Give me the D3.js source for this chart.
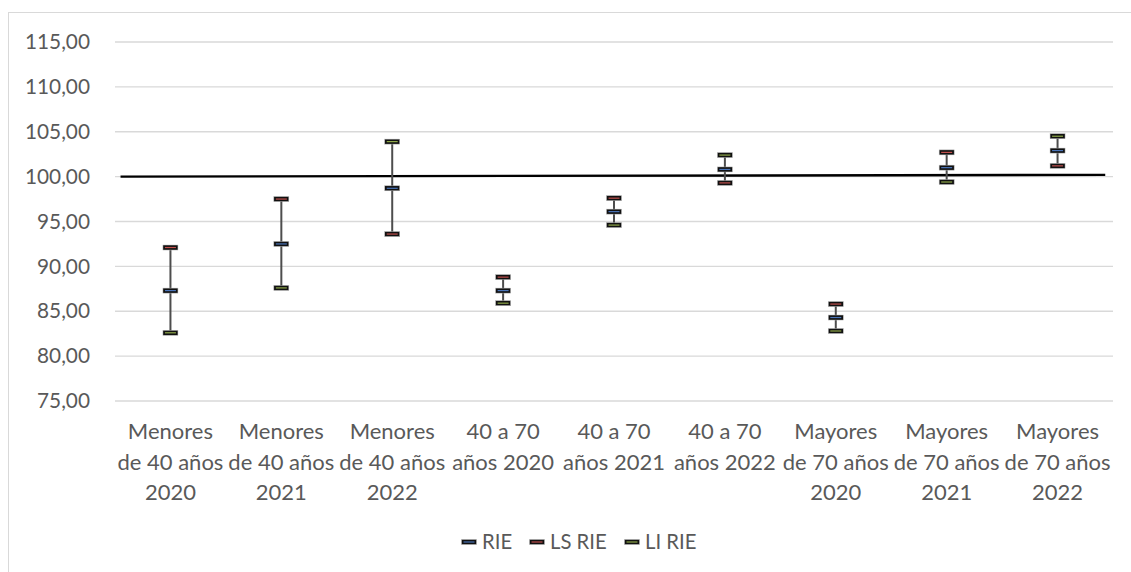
<!DOCTYPE html>
<html>
<head>
<meta charset="utf-8">
<script src="https://cdn.jsdelivr.net/npm/d3@7"></script>
<style>
  html, body { margin: 0; padding: 0; background: #fff; }
  svg { display: block; }
  text { font-family: Lato, "Open Sans", sans-serif; fill: #595959; }
</style>
</head>
<body>
<svg id="chart" width="1131" height="572"></svg>
<script>
const categories = [
  ["Menores", "de 40 años", "2020"],
  ["Menores", "de 40 años", "2021"],
  ["Menores", "de 40 años", "2022"],
  ["40 a 70", "años 2020"],
  ["40 a 70", "años 2021"],
  ["40 a 70", "años 2022"],
  ["Mayores", "de 70 años", "2020"],
  ["Mayores", "de 70 años", "2021"],
  ["Mayores", "de 70 años", "2022"]
];
const rie   = [87.3, 92.5, 98.7, 87.3, 96.1, 100.8, 84.3, 101.0, 102.9];
const lsRie = [92.1, 97.5, 93.6, 88.8, 97.6, 99.3, 85.8, 102.7, 101.2];
const liRie = [82.6, 87.6, 103.9, 85.9, 94.6, 102.4, 82.8, 99.4, 104.5];
const yTicks = [75, 80, 85, 90, 95, 100, 105, 110, 115];
const refLineX = [0.05, 8.93];
const refLineY = [100.0, 100.2];
const seriesNames = ["RIE", "LS RIE", "LI RIE"];
const seriesColors = ["#4a74b8", "#c0504d", "#8fa84a"];

const svg = d3.select("#chart");
const pLeft = 115, pRight = 1113, pTop = 42, pBottom = 401;

// chart border
svg.append("rect").attr("x", 8.5).attr("y", 12.5).attr("width", 1140).attr("height", 600)
  .attr("fill", "none").attr("stroke", "#d9d9d9").attr("stroke-width", 1);

const y = d3.scaleLinear().domain([75, 115]).range([pBottom, pTop]);
const x = d3.scaleBand().domain(d3.range(categories.length)).range([pLeft, pRight]);
const xLin = d3.scaleLinear().domain([0, categories.length]).range([pLeft, pRight]);

// gridlines
svg.append("g").selectAll("line").data(yTicks).join("line")
  .attr("x1", pLeft).attr("x2", pRight)
  .attr("y1", d => y(d)).attr("y2", d => y(d))
  .attr("stroke", "#d9d9d9").attr("stroke-width", 1.3);

// y axis labels
const yAxis = d3.axisLeft(y).tickValues(yTicks)
  .tickFormat(d => d3.format(".2f")(d).replace(".", ","))
  .tickSize(0).tickPadding(25);
const gy = svg.append("g").attr("transform", `translate(${pLeft},0)`).call(yAxis);
gy.select(".domain").remove();
gy.selectAll("text").attr("font-size", 20.8).style("font-family", "Lato, sans-serif").attr("fill", "#595959");

// reference line at 100
svg.append("path")
  .datum(refLineX.map((d, i) => [d, refLineY[i]]))
  .attr("d", d3.line().x(d => xLin(d[0])).y(d => y(d[1])))
  .attr("stroke", "#000").attr("stroke-width", 2.4).attr("fill", "none");

// x labels
const cx = i => x(i) + x.bandwidth() / 2;
const gx = svg.append("g");
categories.forEach((lines, i) => {
  const t = gx.append("text").attr("text-anchor", "middle")
    .attr("x", cx(i)).attr("y", 439).attr("font-size", 22);
  lines.forEach((l, j) => t.append("tspan").attr("x", cx(i)).attr("dy", j === 0 ? 0 : 30.5).text(l));
});

// high-low lines
svg.append("g").selectAll("line").data(d3.range(categories.length)).join("line")
  .attr("x1", cx).attr("x2", cx)
  .attr("y1", i => y(Math.max(rie[i], lsRie[i], liRie[i])))
  .attr("y2", i => y(Math.min(rie[i], lsRie[i], liRie[i])))
  .attr("stroke", "#4d4d4d").attr("stroke-width", 2);

// markers
function marker(g, px, py, color) {
  g.append("rect").attr("x", px - 7.5).attr("y", py - 2.5).attr("width", 15).attr("height", 5)
    .attr("fill", "#111").attr("stroke", "#bbb").attr("stroke-width", 0.5);
  g.append("line").attr("x1", px - 5.5).attr("x2", px + 5.5).attr("y1", py).attr("y2", py)
    .attr("stroke", color).attr("stroke-width", 1.2);
}
const mg = svg.append("g");
[rie, lsRie, liRie].forEach((vals, s) => {
  vals.forEach((v, i) => marker(mg, cx(i), y(v), seriesColors[s]));
});

// legend
const legendX = [469, 537, 632];
const lg = svg.append("g");
seriesNames.forEach((n, s) => {
  marker(lg, legendX[s], 542, seriesColors[s]);
  lg.append("text").attr("x", legendX[s] + 13).attr("y", 549).attr("font-size", 20.3).text(n);
});
</script>
</body>
</html>
